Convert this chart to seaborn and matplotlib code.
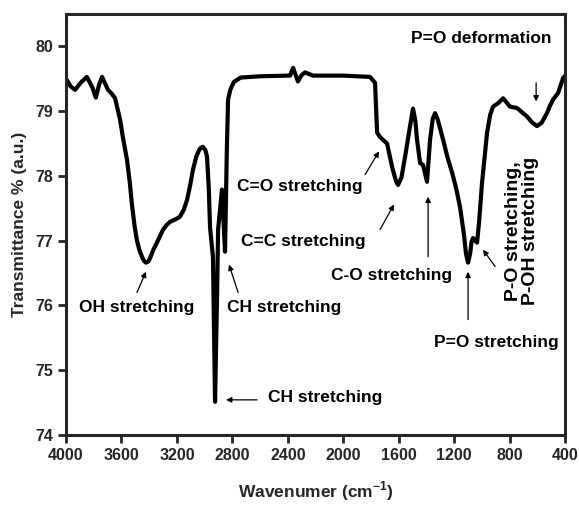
import matplotlib
matplotlib.use("Agg")
import matplotlib.pyplot as plt
import seaborn as sns
import pandas as pd

# ---- data ----
wavenumber = [4000, 3965, 3935, 3890, 3850, 3810, 3785, 3760, 3740, 3697, 3670,
              3646, 3610, 3590, 3560, 3540, 3524, 3505, 3488, 3470, 3450, 3435,
              3423, 3405, 3390, 3370, 3344, 3320, 3300, 3275, 3250, 3210, 3178,
              3150, 3127, 3105, 3084, 3060, 3040, 3025, 3012, 2995, 2983, 2970,
              2961, 2940, 2925, 2910, 2903, 2875, 2853, 2840, 2831, 2815, 2790,
              2740, 2600, 2400, 2384, 2362, 2327, 2300, 2276, 2218, 2000, 1807,
              1771, 1756, 1735, 1684, 1648, 1620, 1605, 1580, 1554, 1520, 1497,
              1480, 1468, 1446, 1425, 1396, 1374, 1355, 1338, 1320, 1300, 1280,
              1250, 1215, 1185, 1158, 1130, 1115, 1100, 1085, 1075, 1064, 1050,
              1035, 1020, 999, 980, 963, 940, 920, 880, 847, 820, 797, 747, 720,
              675, 640, 603, 570, 531, 510, 487, 451, 415, 400]
transmittance = [79.50, 79.38, 79.33, 79.45, 79.53, 79.37, 79.21, 79.42, 79.53,
                 79.33, 79.27, 79.20, 78.87, 78.60, 78.25, 77.90, 77.55, 77.22,
                 77.00, 76.85, 76.74, 76.68, 76.66, 76.68, 76.75, 76.86, 76.97,
                 77.08, 77.17, 77.24, 77.29, 77.33, 77.37, 77.48, 77.63, 77.85,
                 78.10, 78.30, 78.40, 78.44, 78.45, 78.40, 78.30, 77.80, 77.20,
                 76.75, 74.51, 76.20, 77.17, 77.79, 76.83, 78.40, 79.18, 79.33,
                 79.45, 79.52, 79.54, 79.55, 79.55, 79.67, 79.46, 79.56, 79.60,
                 79.55, 79.55, 79.53, 79.44, 78.67, 78.60, 78.50, 78.14, 77.92,
                 77.86, 77.98, 78.30, 78.75, 79.04, 78.85, 78.56, 78.20, 78.17,
                 77.91, 78.56, 78.88, 78.97, 78.88, 78.72, 78.56, 78.30, 78.05,
                 77.80, 77.52, 77.10, 76.80, 76.66, 76.80, 76.98, 77.04, 77.00,
                 76.97, 77.30, 77.90, 78.30, 78.67, 78.95, 79.07, 79.13, 79.20,
                 79.13, 79.07, 79.05, 79.00, 78.92, 78.83, 78.77, 78.82, 78.97,
                 79.08, 79.18, 79.28, 79.51, 79.55]

x_ticks = [4000, 3600, 3200, 2800, 2400, 2000, 1600, 1200, 800, 400]
y_ticks = [74, 75, 76, 77, 78, 79, 80]

df = pd.DataFrame({"Wavenumber": wavenumber, "Transmittance": transmittance})

sns.set_style("ticks")
plt.rcParams["font.family"] = ["Liberation Sans", "DejaVu Sans"]
plt.rcParams["font.weight"] = "bold"
plt.rcParams["mathtext.fontset"] = "custom"
plt.rcParams["mathtext.rm"] = "Liberation Sans:bold"
plt.rcParams["mathtext.bf"] = "Liberation Sans:bold"

fig = plt.figure(figsize=(5.79, 5.05), dpi=100)
ax = fig.add_axes([0.114, 0.139, 0.862, 0.833])

sns.lineplot(data=df, x="Wavenumber", y="Transmittance", sort=False,
             color="black", linewidth=3.0, ax=ax)
for ln in ax.get_lines():
    ln.set_solid_joinstyle("round")
    ln.set_solid_capstyle("round")

ax.set_xlim(4000, 400)
ax.set_ylim(74, 80.5)
ax.set_xticks(x_ticks)
ax.set_yticks(y_ticks)
ax.tick_params(axis="both", direction="out", length=6, width=2, labelsize=11.5)
for lab in ax.get_xticklabels() + ax.get_yticklabels():
    lab.set_fontweight("bold")
for sp in ax.spines.values():
    sp.set_visible(True)
    sp.set_linewidth(2.2)

ax.set_xlabel(r"Wavenumer (cm$^{\mathbf{-1}}$)", fontsize=12.5, fontweight="bold", labelpad=12)
ax.set_ylabel("Transmittance % (a.u.)", fontsize=12.5, fontweight="bold", labelpad=6)

tk = dict(fontweight="bold", color="black")
arr = dict(arrowstyle="-|>", color="black", lw=0.9, mutation_scale=8, shrinkA=0, shrinkB=0)

def label(x, y, s, ha="left", size=12.5):
    ax.text(x, y, s, ha=ha, va="center", fontsize=size, **tk)

def arrow(x0, y0, x1, y1):
    ax.annotate("", xy=(x1, y1), xytext=(x0, y0), arrowprops=arr)

label(3488, 75.96, "OH stretching", ha="center")
arrow(3488, 76.20, 3423, 76.52)

label(2838, 75.96, "CH stretching")
arrow(2759, 76.20, 2824, 76.63)

label(2543, 74.57, "CH stretching")
arrow(2622, 74.54, 2846, 74.54)

label(2766, 77.83, "C=O stretching")
arrow(1843, 78.02, 1742, 78.38)

label(2737, 76.98, "C=C stretching")
arrow(1735, 77.17, 1634, 77.56)

label(1655, 76.46, "C-O stretching", ha="center")
arrow(1388, 76.75, 1388, 77.68)

label(898, 75.42, "P=O stretching", ha="center")
arrow(1100, 75.78, 1100, 76.52)

ax.text(710, 77.15, "P-O stretching,\nP-OH stretching", ha="center", va="center",
        rotation=90, linespacing=1.05, fontsize=14, **tk)
arrow(905, 76.60, 992, 76.86)

label(1006, 80.12, "P=O deformation", ha="center")
arrow(609, 79.44, 609, 79.15)

fig.savefig("out.png", dpi=100)
